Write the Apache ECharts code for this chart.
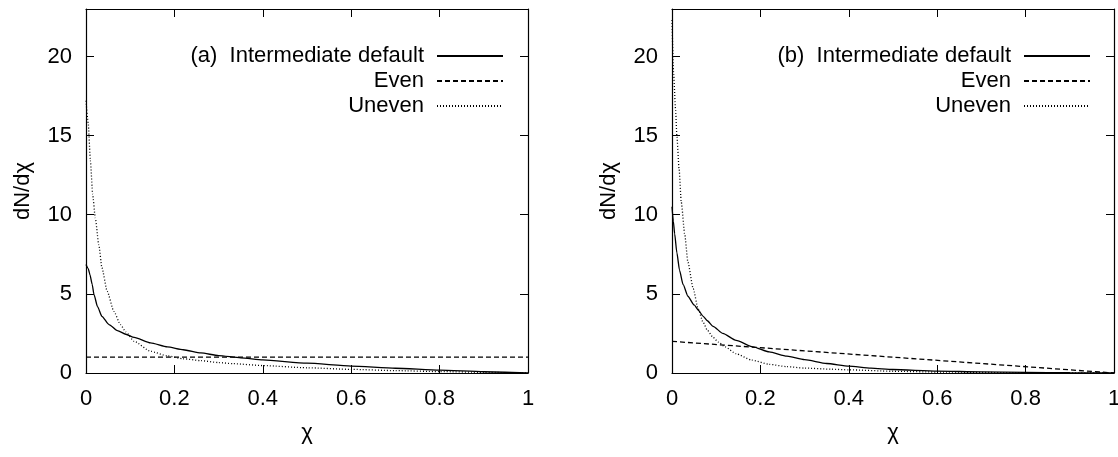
<!DOCTYPE html>
<html><head><meta charset="utf-8">
<script src="https://cdn.jsdelivr.net/npm/echarts@6/dist/echarts.min.js"></script>
<style>html,body{margin:0;padding:0;background:#fff}#c{width:1118px;height:457px}</style>
</head><body><div id="c"></div>
<script>
// tick labels
const xTicks = [0, 0.2, 0.4, 0.6, 0.8, 1];
const yTicks = [0, 5, 10, 15, 20];
const legendA = ['(a)  Intermediate default', 'Even', 'Uneven'];
const legendB = ['(b)  Intermediate default', 'Even', 'Uneven'];

// panel (a)
const chiIntA = [0, 0.005, 0.009, 0.014, 0.018, 0.026, 0.036, 0.052, 0.071, 0.09, 0.109, 0.146, 0.184, 0.22, 0.26, 0.3, 0.35, 0.4, 0.5, 0.6, 0.7, 0.8, 0.9, 1];
const intA    = [6.85, 6.6, 6.2, 5.6, 4.96, 4.2, 3.58, 3.06, 2.68, 2.45, 2.25, 1.9, 1.65, 1.47, 1.27, 1.1, 0.96, 0.83, 0.62, 0.44, 0.3, 0.18, 0.08, 0];
const chiUnA  = [0, 0.005, 0.01, 0.015, 0.021, 0.029, 0.036, 0.048, 0.063, 0.078, 0.09, 0.109, 0.146, 0.184, 0.22, 0.26, 0.3, 0.333, 0.4, 0.5, 0.6, 0.7, 0.8, 0.9, 1];
const unA     = [17.2, 15.8, 13.4, 11.3, 9.8, 8.1, 6.65, 5.16, 3.9, 3.06, 2.6, 2.0, 1.37, 1.08, 0.9, 0.78, 0.66, 0.59, 0.47, 0.33, 0.23, 0.15, 0.09, 0.04, 0];
const chiEvA  = [0, 1];
const evA     = [1, 1];

// panel (b)
const chiIntB = [0, 0.003, 0.006, 0.011, 0.017, 0.025, 0.036, 0.05, 0.06, 0.07, 0.08, 0.093, 0.115, 0.145, 0.183, 0.22, 0.26, 0.3, 0.35, 0.4, 0.45, 0.5, 0.6, 0.7, 0.8, 0.9, 1];
const intB    = [10.5, 9.6, 8.8, 7.6, 6.5, 5.6, 4.85, 4.3, 3.95, 3.6, 3.3, 2.95, 2.5, 2.06, 1.65, 1.33, 1.06, 0.84, 0.6, 0.43, 0.31, 0.22, 0.12, 0.07, 0.04, 0.015, 0];
const chiUnB  = [0, 0.0035, 0.008, 0.011, 0.016, 0.021, 0.029, 0.036, 0.048, 0.059, 0.07, 0.08, 0.093, 0.105, 0.12, 0.145, 0.18, 0.22, 0.26, 0.3, 0.36, 0.4, 0.5, 0.6, 0.8, 1];
const unB     = [22.3, 19.0, 16.7, 15.0, 12.9, 10.8, 8.7, 7.0, 5.33, 4.07, 3.23, 2.7, 2.25, 1.95, 1.65, 1.22, 0.82, 0.55, 0.4, 0.31, 0.24, 0.2, 0.11, 0.06, 0.015, 0];
const chiEvB  = [0, 1];
const evB     = [2, 0];

const FONT = 'Liberation Sans, Arial, sans-serif';
const FS = 22;
const zip = (xs, ys) => xs.map((x, i) => [x, ys[i]]);

function xAx(g, pos, main) {
  return {
    type: 'value', gridIndex: g, position: pos, min: 0, max: 1, interval: 0.2,
    axisLine: { show: true, onZero: false, lineStyle: { color: '#000', width: 1.2 } },
    axisTick: { show: true, inside: true, length: 8, customValues: xTicks, lineStyle: { color: '#000', width: 1 } },
    axisLabel: { show: main, customValues: xTicks, margin: 15, color: '#000', fontSize: FS, fontFamily: FONT },
    splitLine: { show: false },
    name: main ? 'χ' : '', nameLocation: 'middle', nameGap: 49,
    nameTextStyle: { color: '#000', fontSize: FS, fontFamily: FONT }
  };
}
function yAx(g, pos, main) {
  return {
    type: 'value', gridIndex: g, position: pos, min: 0, max: 23, interval: 5,
    axisLine: { show: true, onZero: false, lineStyle: { color: '#000', width: 1.2 } },
    axisTick: { show: true, inside: true, length: 8, customValues: yTicks, lineStyle: { color: '#000', width: 1 } },
    axisLabel: { show: main, customValues: yTicks, margin: 14, color: '#000', fontSize: FS, fontFamily: FONT,
      formatter: v => (v > 20 ? '' : String(v)) },
    splitLine: { show: false },
    name: main ? 'dN/dχ' : '', nameLocation: 'middle', nameGap: 52, nameRotate: 90,
    nameTextStyle: { color: '#000', fontSize: FS, fontFamily: FONT }
  };
}
function lg(name, right, top) {
  return {
    data: [name], right: right, top: top, orient: 'vertical', align: 'right', padding: 0,
    itemWidth: 66, itemHeight: 14, selectedMode: false,
    itemStyle: { opacity: 0 },
    textStyle: { fontSize: FS, color: '#000', fontFamily: FONT, padding: [0, 8, 0, 0] }
  };
}
function line(name, xs, ys, g, type, smooth) {
  return {
    type: 'line', name: name, xAxisIndex: g * 2, yAxisIndex: g * 2, data: zip(xs, ys),
    symbol: 'none', showSymbol: false, smooth: smooth ? 0.2 : false, smoothMonotone: 'x',
    lineStyle: { color: '#000', width: 1.3, type: type },
    itemStyle: { color: '#000' }, animation: false
  };
}

const option = {
  backgroundColor: '#fff',
  animation: false,
  grid: [
    { left: 86, top: 9, width: 442, height: 364, outerBoundsMode: 'none' },
    { left: 672, top: 9, width: 442, height: 364, outerBoundsMode: 'none' }
  ],
  xAxis: [xAx(0, 'bottom', true), xAx(0, 'top', false), xAx(1, 'bottom', true), xAx(1, 'top', false)],
  yAxis: [yAx(0, 'left', true), yAx(0, 'right', false), yAx(1, 'left', true), yAx(1, 'right', false)],
  legend: [
    lg(legendA[0], 614, 45), lg(legendA[1], 614, 70), lg(legendA[2], 614, 95),
    lg(legendB[0], 27, 45), lg(legendB[1], 27, 70), lg(legendB[2], 27, 95)
  ],
  series: [
    line(legendA[0], chiIntA, intA, 0, 'solid', true),
    line(legendA[1], chiEvA, evA, 0, [5, 3], false),
    line(legendA[2], chiUnA, unA, 0, [1, 2], true),
    line(legendB[0], chiIntB, intB, 1, 'solid', true),
    line(legendB[1], chiEvB, evB, 1, [5, 3], false),
    line(legendB[2], chiUnB, unB, 1, [1, 2], true)
  ]
};
const chart = echarts.init(document.getElementById('c'), null, { renderer: 'canvas' });
chart.setOption(option);
</script>
</body></html>
